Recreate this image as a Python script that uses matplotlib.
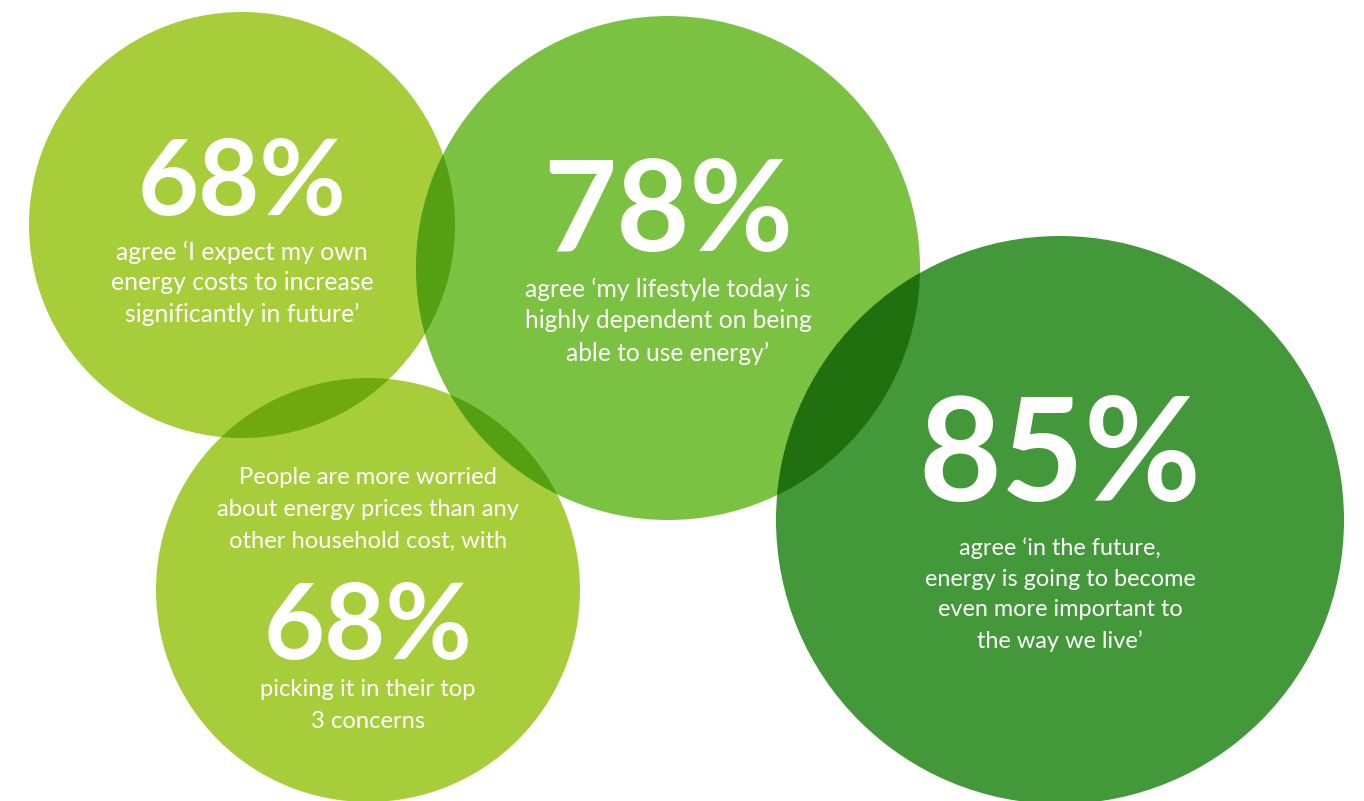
import matplotlib
matplotlib.use("Agg")
import matplotlib.pyplot as plt
from matplotlib.patches import Circle

plt.rcParams['font.family'] = ['Lato', 'DejaVu Sans']

# bubbles: centre x, centre y, radius (pixel space, y downward)
names = ["costs", "lifestyle", "worried", "future"]
cx = [242, 668, 368, 1060]
cy = [225, 268, 590, 520]
radius = [213, 252, 212, 284]
fills = ["#a7ce3a", "#7bc142", "#a7ce3a", "#43983a"]

# overlaps: (first, second, colour)
overlaps = [(0, 2, "#6fa80f"), (0, 1, "#559f12"), (2, 1, "#559f12"), (1, 3, "#217010")]

big_numbers = ["68%", "78%", "68%", "85%"]
big_y = [185, 214, 629, 460]
big_size = [76, 91, 76, 103]

captions = [
    (["agree \u2018I expect my own", "energy costs to increase", "significantly in future\u2019"], 252),
    (["agree \u2018my lifestyle today is", "highly dependent on being", "able to use energy\u2019"], 289),
    (["picking it in their top", "3 concerns"], 690),
    (["agree \u2018in the future,", "energy is going to become", "even more important to", "the way we live\u2019"], 548),
]
caption_size = [17.8, 17.7, 17.1, 16.9]
caption_gap = [31, 32, 31.5, 31]
intro = ["People are more worried", "about energy prices than any", "other household cost, with"]
intro_y = 478

fig = plt.figure(figsize=(13.64, 8.01), dpi=100)
ax = fig.add_axes([0, 0, 1, 1])
ax.set_xlim(0, 1364)
ax.set_ylim(801, 0)
ax.set_aspect("equal")
ax.axis("off")

for x, y, r, c in zip(cx, cy, radius, fills):
    ax.add_patch(Circle((x, y), r, facecolor=c, edgecolor="none", zorder=1))

# darker lens where two bubbles overlap
for i, j, c in overlaps:
    p = Circle((cx[i], cy[i]), radius[i], facecolor=c, edgecolor="none", zorder=2)
    ax.add_patch(p)
    p.set_clip_path(Circle((cx[j], cy[j]), radius[j], transform=ax.transData))

for k in range(4):
    ax.text(cx[k], big_y[k], big_numbers[k], ha="center", va="center",
            fontsize=big_size[k], fontweight="bold", color="white", zorder=5)
    lines, y0 = captions[k]
    for n, line in enumerate(lines):
        ax.text(cx[k], y0 + n * caption_gap[k], line, ha="center", va="center",
                fontsize=caption_size[k], color="white", zorder=5)

for n, line in enumerate(intro):
    ax.text(cx[2], intro_y + n * caption_gap[2], line, ha="center", va="center",
            fontsize=caption_size[2], color="white", zorder=5)

fig.savefig("out.png", dpi=100, facecolor="white")
